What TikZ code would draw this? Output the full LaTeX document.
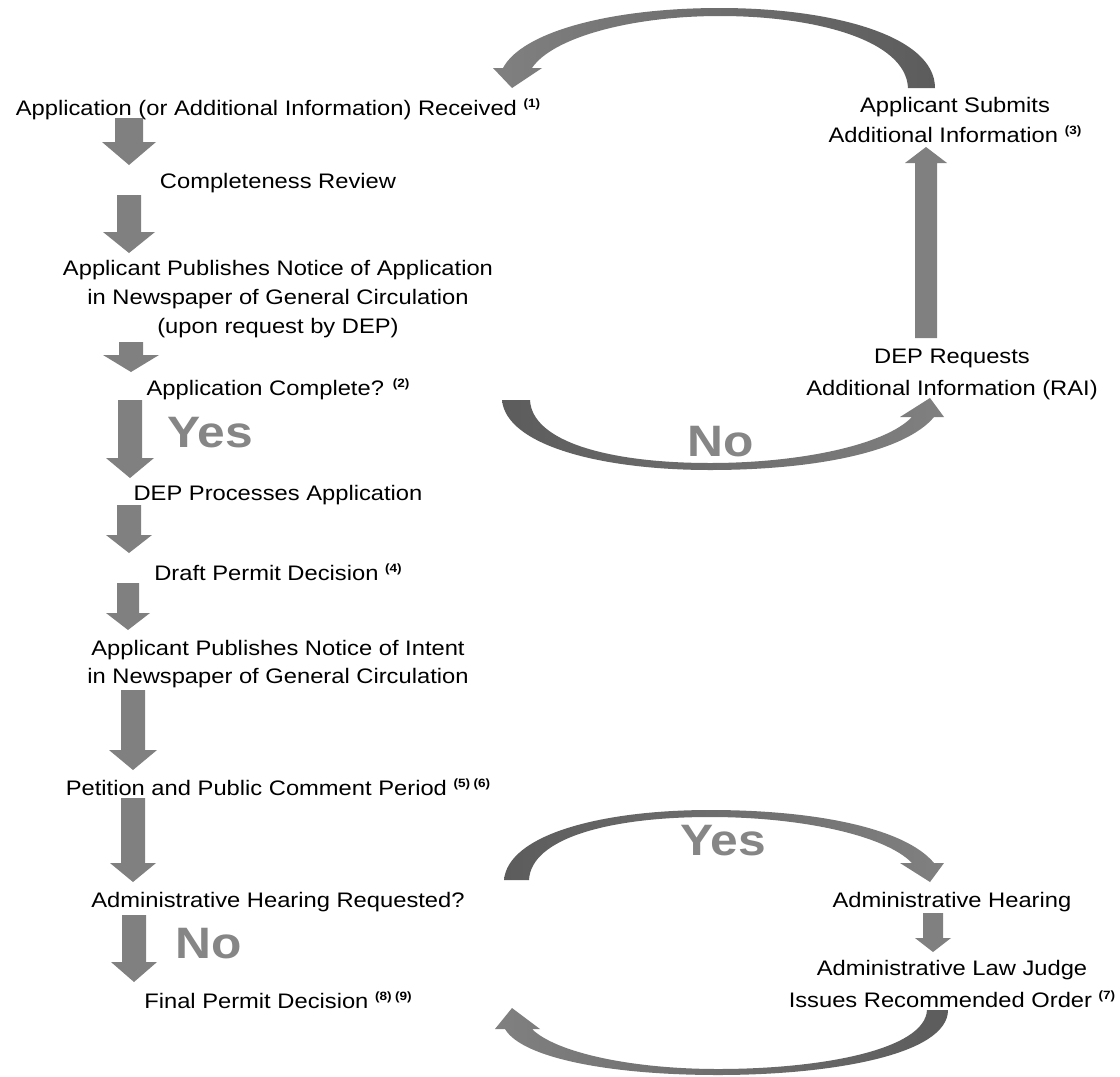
\documentclass[tikz,border=0pt]{standalone}
\usepackage{fontspec}
\setmainfont{Liberation Sans}[FakeStretch=1.13]
\usetikzlibrary{calc}
\definecolor{arrowgray}{RGB}{128,128,128}
\definecolor{arrowdark}{RGB}{92,92,92}
\definecolor{biggray}{RGB}{134,134,134}
\newcommand{\sups}[1]{\raisebox{8pt}{\fontsize{12}{12}\selectfont\bfseries(#1)}}
% down block arrow: #1 start, #2 tip, #3 head length, #4 shaft half width, #5 head half width
\newcommand{\vblock}[5]{%
  \fill[arrowgray] ($(#1)+(-#4,0)$) -- ($(#1)+(#4,0)$) -- ($(#2)+(#4,-#3)$) -- ($(#2)+(#5,-#3)$)
    -- (#2) -- ($(#2)+(-#5,-#3)$) -- ($(#2)+(-#4,-#3)$) -- cycle;}
\begin{document}
\begin{tikzpicture}[x=1pt,y=-1pt,
  txt/.style={font=\fontsize{21}{29}\selectfont, align=center, inner sep=0pt, anchor=base, text=black},
  txtr/.style={txt, font=\fontsize{21}{32}\selectfont},
  bigtxt/.style={font=\fontsize{44}{44}\selectfont\bfseries, text=biggray, inner sep=0pt, anchor=base}]
\fill[white] (0,0) rectangle (1120,1077);
\useasboundingbox (0,0) rectangle (1120,1077);

% ---------- left column texts (y = baseline of last line) ----------
\node[txt] (t1) at (278,115) {Application (or Additional Information) Received \sups{1}};
\node[txt] (t2) at (278,188) {Completeness Review};
\node[txt] (t3) at (278,333) {Applicant Publishes Notice of Application\\in Newspaper of General Circulation\\(upon request by DEP)};
\node[txt] (t4) at (278,395) {Application Complete? \sups{2}};
\node[txt] (t5) at (278,500) {DEP Processes Application};
\node[txt] (t6) at (278,580) {Draft Permit Decision \sups{4}};
\node[txt, font=\fontsize{21}{28}\selectfont] (t7) at (278,683) {Applicant Publishes Notice of Intent\\in Newspaper of General Circulation};
\node[txt] (t8) at (278,795) {Petition and Public Comment Period \sups{5}\,\sups{6}};
\node[txt] (t9) at (278,907) {Administrative Hearing Requested?};
\node[txt] (t10) at (278,1008) {Final Permit Decision \sups{8}\,\sups{9}};

% ---------- right column texts ----------
\node[txtr, font=\fontsize{21}{30}\selectfont] (r1) at (955,142) {Applicant Submits\\Additional Information \sups{3}};
\node[txtr] (r2) at (952,395) {DEP Requests\\Additional Information (RAI)};
\node[txtr] (r3) at (952,907) {Administrative Hearing};
\node[txtr] (r4) at (952,1007) {Administrative Law Judge\\Issues Recommended Order \sups{7}};

% ---------- big labels ----------
\node[bigtxt] (yes1) at (210,447) {Yes};
\node[bigtxt] (no1) at (721,456) {No};
\node[bigtxt] (yes2) at (723,855) {Yes};
\node[bigtxt] (no2) at (209,958) {No};

% ---------- straight block arrows ----------
\coordinate (a1s) at (129,118); \coordinate (a1e) at (129,165);
\coordinate (a2s) at (129,195); \coordinate (a2e) at (129,253);
\coordinate (a3s) at (131,342); \coordinate (a3e) at (131,372);
\coordinate (a4s) at (130,400); \coordinate (a4e) at (130,478);
\coordinate (a5s) at (129,505); \coordinate (a5e) at (129,553);
\coordinate (a6s) at (128,583); \coordinate (a6e) at (128,630);
\coordinate (a7s) at (133,690); \coordinate (a7e) at (133,770);
\coordinate (a8s) at (133,798); \coordinate (a8e) at (133,882);
\coordinate (a9s) at (134,915); \coordinate (a9e) at (134,982);
\coordinate (a10s) at (933,913); \coordinate (a10e) at (933,952);
\coordinate (ups) at (926,338); \coordinate (upe) at (926,147);

\vblock{a1s}{a1e}{23}{14}{27}
\vblock{a2s}{a2e}{21}{12}{26}
\vblock{a3s}{a3e}{17}{12}{28}
\vblock{a4s}{a4e}{20}{12}{24}
\vblock{a5s}{a5e}{18}{12}{23}
\vblock{a6s}{a6e}{17}{11}{22}
\vblock{a7s}{a7e}{20}{12}{24}
\vblock{a8s}{a8e}{19}{12}{23}
\vblock{a9s}{a9e}{20}{12}{23}
\vblock{a10s}{a10e}{14}{10}{18}
% up arrow
\fill[arrowgray] ($(ups)+(-11,0)$) -- ($(ups)+(11,0)$) -- ($(upe)+(11,16)$) -- ($(upe)+(21,16)$)
  -- (upe) -- ($(upe)+(-21,16)$) -- ($(upe)+(-11,16)$) -- cycle;

% ---------- curved arrows ----------
% top: Applicant Submits -> Application Received
\shade[left color=arrowgray, right color=arrowdark]
  (935,88) .. controls (935,35) and (830,8) .. (720,8)
  .. controls (610,8) and (522,32) .. (503,68)
  -- (493,68) -- (512,88) -- (542,68) -- (532,68)
  .. controls (552,38) and (630,16) .. (720,16)
  .. controls (815,16) and (906,40) .. (908,88) -- cycle;
% No: Application Complete -> DEP Requests
\shade[left color=arrowdark, right color=arrowgray]
  (502,400) .. controls (506,445) and (600,470) .. (710,470)
  .. controls (815,470) and (905,452) .. (934,417)
  -- (944,417) -- (930,398) -- (900,417) -- (912,417)
  .. controls (885,445) and (800,463) .. (710,463)
  .. controls (610,463) and (532,442) .. (530,400) -- cycle;
% Yes: Hearing Requested -> Administrative Hearing
\shade[left color=arrowdark, right color=arrowgray]
  (504,880) .. controls (508,835) and (600,810) .. (710,810)
  .. controls (815,810) and (905,828) .. (934,863)
  -- (944,863) -- (930,882) -- (900,863) -- (912,863)
  .. controls (885,835) and (800,817) .. (710,817)
  .. controls (610,817) and (531,838) .. (529,880) -- cycle;
% bottom: Recommended Order -> Final Permit Decision
\shade[left color=arrowgray, right color=arrowdark]
  (948,1010) .. controls (948,1055) and (830,1075) .. (718,1075)
  .. controls (610,1075) and (522,1058) .. (505,1029)
  -- (495,1029) -- (512,1008) -- (540,1029) -- (532,1029)
  .. controls (555,1052) and (630,1069) .. (718,1069)
  .. controls (820,1069) and (925,1050) .. (927,1010) -- cycle;
\end{tikzpicture}
\end{document}
